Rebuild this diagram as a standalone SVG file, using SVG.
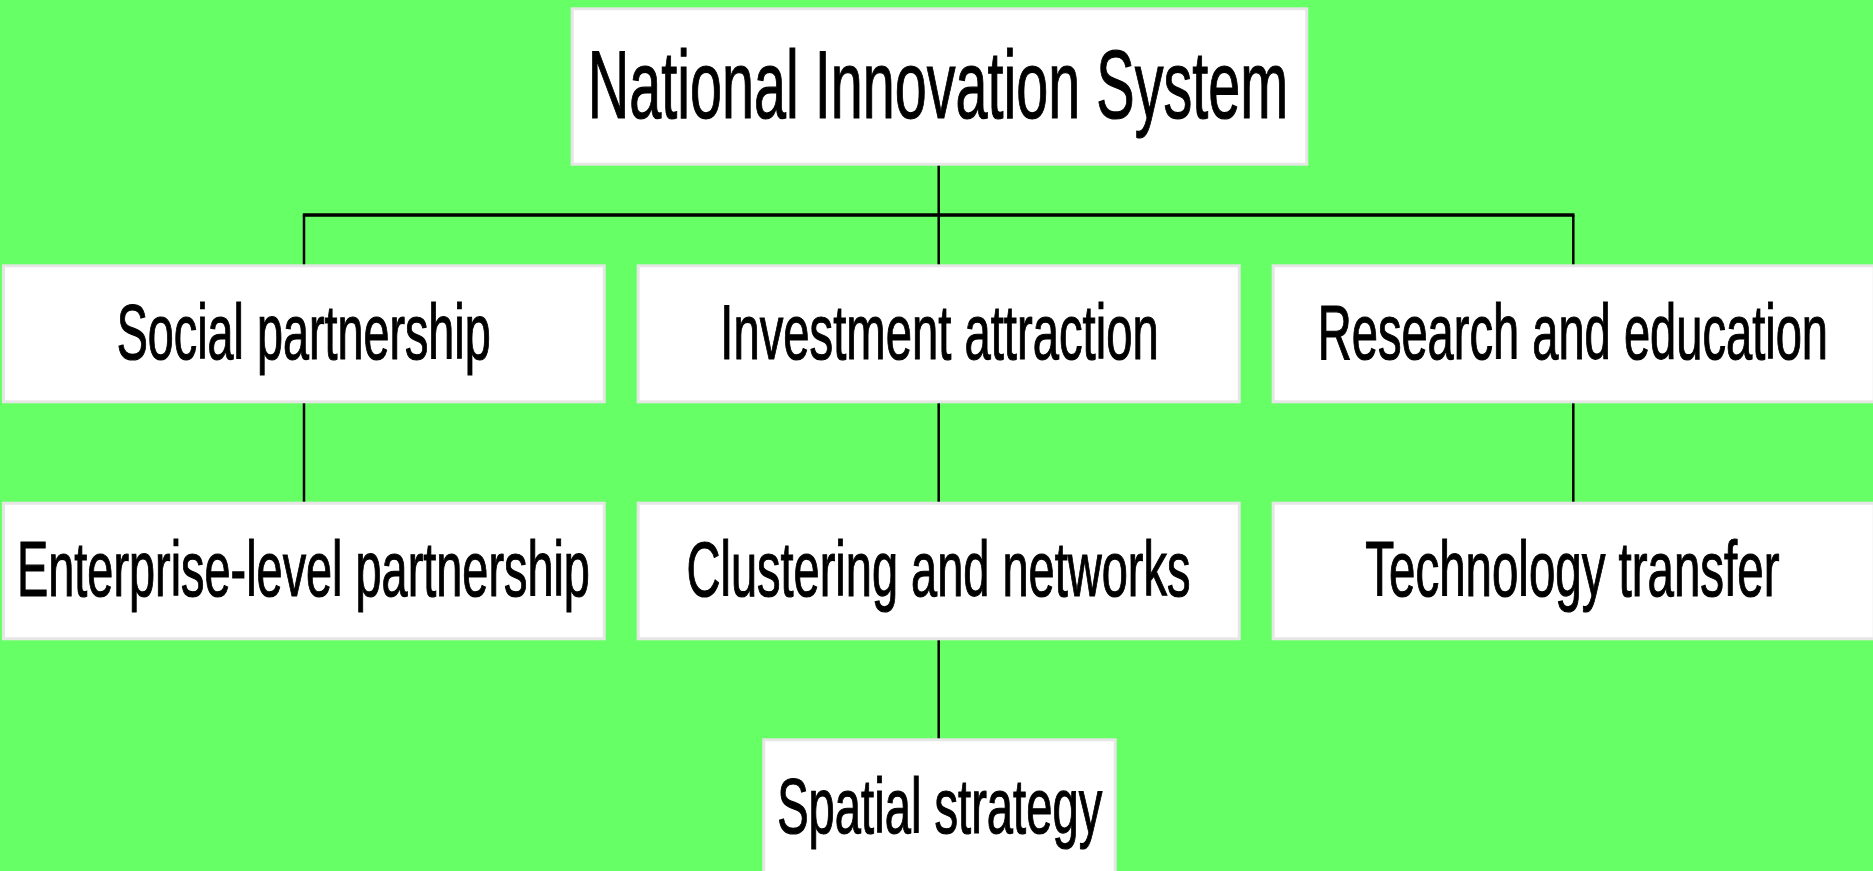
<svg xmlns="http://www.w3.org/2000/svg" width="1873" height="871" viewBox="0 0 1873 871">
<style>
.box{fill:#ffffff;stroke:#e6e6e6;stroke-width:3}
.lbl{font-family:"Liberation Sans",Arial,sans-serif;fill:#000000;stroke:#000000;stroke-width:1.2;text-anchor:middle}
.big{font-size:96.5px}
.sm{font-size:77.5px}
.ln{stroke:#000000;stroke-width:2.5;fill:none}
.bar{stroke:#000000;stroke-width:3.5;fill:none}
</style>
<rect x="0" y="0" width="1873" height="871" fill="#66ff66"/>
<g id="connectors">
<line class="ln" x1="938.7" y1="165" x2="938.7" y2="215"/>
<line class="bar" x1="302.8" y1="215" x2="1574.5" y2="215"/>
<line class="ln" x1="304" y1="215" x2="304" y2="265"/>
<line class="ln" x1="938.7" y1="215" x2="938.7" y2="265"/>
<line class="ln" x1="1573.3" y1="215" x2="1573.3" y2="265"/>
<line class="ln" x1="304" y1="403" x2="304" y2="502"/>
<line class="ln" x1="938.7" y1="403" x2="938.7" y2="502"/>
<line class="ln" x1="1573.3" y1="403" x2="1573.3" y2="502"/>
<line class="ln" x1="938.7" y1="640" x2="938.7" y2="739"/>
</g>
<g id="node-root">
<rect class="box" x="572.2" y="8.8" width="734.6" height="155.4"/>
<text class="lbl big" transform="scale(0.59,1)" x="1589.8" y="117.8" textLength="1187" lengthAdjust="spacingAndGlyphs">National Innovation System</text>
</g>
<g id="node-social">
<rect class="box" x="3.5" y="265.8" width="600.7" height="136"/>
<text class="lbl sm" transform="scale(0.59,1)" x="514.7" y="358.8" textLength="634" lengthAdjust="spacingAndGlyphs">Social partnership</text>
</g>
<g id="node-investment">
<rect class="box" x="638.2" y="265.8" width="601" height="136"/>
<text class="lbl sm" transform="scale(0.59,1)" x="1592.4" y="358.8" textLength="743" lengthAdjust="spacingAndGlyphs">Investment attraction</text>
</g>
<g id="node-research">
<rect class="box" x="1273.2" y="265.8" width="601" height="136"/>
<text class="lbl sm" transform="scale(0.59,1)" x="2665.9" y="358.8" textLength="865" lengthAdjust="spacingAndGlyphs">Research and education</text>
</g>
<g id="node-enterprise">
<rect class="box" x="3.5" y="503.2" width="600.7" height="135.6"/>
<text class="lbl sm" transform="scale(0.59,1)" x="514.4" y="596.3" textLength="971" lengthAdjust="spacingAndGlyphs">Enterprise-level partnership</text>
</g>
<g id="node-clustering">
<rect class="box" x="638.2" y="503.2" width="601" height="135.6"/>
<text class="lbl sm" transform="scale(0.59,1)" x="1590.7" y="596.3" textLength="854" lengthAdjust="spacingAndGlyphs">Clustering and networks</text>
</g>
<g id="node-technology">
<rect class="box" x="1273.2" y="503.2" width="601" height="135.6"/>
<text class="lbl sm" transform="scale(0.59,1)" x="2665.1" y="596.3" textLength="702" lengthAdjust="spacingAndGlyphs">Technology transfer</text>
</g>
<g id="node-spatial">
<rect class="box" x="763.8" y="739.8" width="351.4" height="200"/>
<text class="lbl sm" transform="scale(0.59,1)" x="1592.7" y="832.9" textLength="551" lengthAdjust="spacingAndGlyphs">Spatial strategy</text>
</g>
</svg>
